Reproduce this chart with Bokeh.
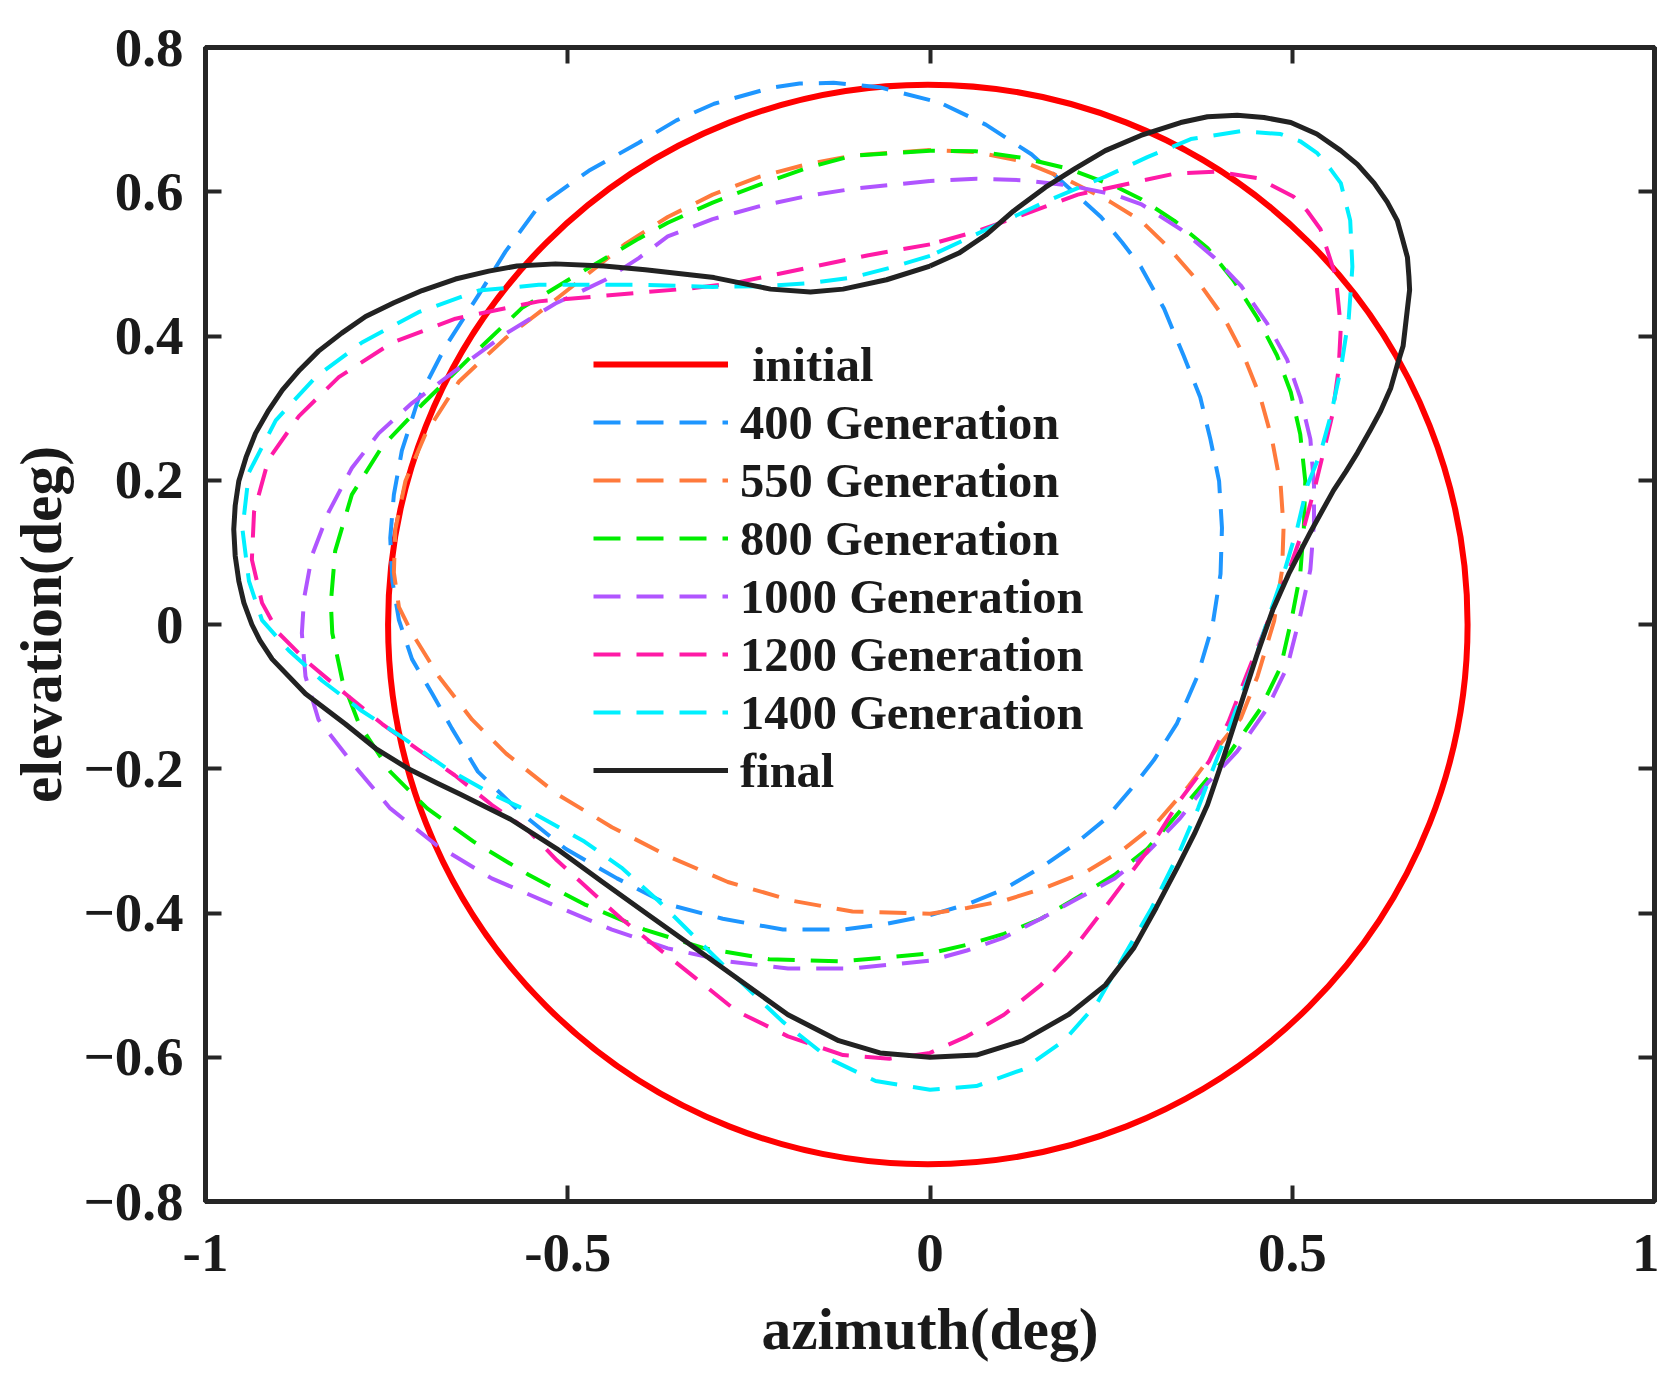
import math
from bokeh.plotting import figure
from bokeh.models import Range1d, FixedTicker, LinearAxis, Legend, LegendItem
from bokeh.embed import file_html
from bokeh.resources import INLINE

# ---------------- data ----------------
x_ticks = [-1, -0.5, 0, 0.5, 1]
x_tick_labels = ["-1", "-0.5", "0", "0.5", "1"]
y_ticks = [-0.8, -0.6, -0.4, -0.2, 0, 0.2, 0.4, 0.6, 0.8]
y_tick_labels = ["\u22120.8", "\u22120.6", "\u22120.4", "\u22120.2", "0", "0.2", "0.4", "0.6", "0.8"]

series_names = ["\u00a0initial", "400 Generation", "550 Generation", "800 Generation",
                "1000 Generation", "1200 Generation", "1400 Generation", "final"]

# initial: a circle
initial_cx = [-0.003]
initial_cy = [0.0]
initial_r = [0.745]

gen400_x = [0.000, -0.070, -0.133, -0.180, -0.220, -0.298, -0.350, -0.402, -0.471, -0.540, -0.586, -0.623,
            -0.669, -0.706, -0.729, -0.740, -0.745, -0.742, -0.733, -0.715, -0.687, -0.660, -0.624, -0.566,
            -0.503, -0.432, -0.362, -0.286, -0.203, -0.120, -0.060, 0.000, 0.051, 0.102, 0.153, 0.198,
            0.242, 0.281, 0.309, 0.341, 0.369, 0.390, 0.401, 0.403, 0.399, 0.387, 0.373, 0.350, 0.323,
            0.291, 0.265, 0.236, 0.191, 0.140, 0.077, 0.019, 0.000]
gen400_y = [0.727, 0.745, 0.751, 0.750, 0.744, 0.722, 0.699, 0.668, 0.629, 0.580, 0.517, 0.457,
            0.385, 0.313, 0.241, 0.180, 0.120, 0.060, 0.006, -0.048, -0.096, -0.144, -0.204, -0.260,
            -0.311, -0.352, -0.388, -0.408, -0.423, -0.423, -0.415, -0.403, -0.388, -0.367, -0.337, -0.306,
            -0.270, -0.224, -0.188, -0.137, -0.072, -0.001, 0.070, 0.134, 0.199, 0.257, 0.315, 0.373, 0.438,
            0.496, 0.530, 0.565, 0.606, 0.652, 0.693, 0.721, 0.727]

gen550_x = [0.000, -0.107, -0.170, -0.235, -0.300, -0.362, -0.420, -0.471, -0.530, -0.586, -0.650, -0.696,
            -0.724, -0.738, -0.740, -0.733, -0.715, -0.678, -0.632, -0.585, -0.515, -0.439, -0.362, -0.279,
            -0.190, -0.107, 0.000, 0.051, 0.102, 0.159, 0.217, 0.268, 0.312, 0.357, 0.395, 0.429, 0.452,
            0.475, 0.486, 0.488, 0.484, 0.472, 0.456, 0.433, 0.406, 0.369, 0.327, 0.291, 0.249, 0.191,
            0.128, 0.064, 0.000]
gen550_y = [0.658, 0.650, 0.638, 0.621, 0.596, 0.565, 0.528, 0.487, 0.440, 0.397, 0.337, 0.265,
            0.199, 0.132, 0.072, 0.024, -0.012, -0.072, -0.132, -0.179, -0.235, -0.281, -0.321, -0.357,
            -0.383, -0.398, -0.401, -0.393, -0.383, -0.365, -0.342, -0.311, -0.276, -0.224, -0.173, -0.130, -0.072,
            0.005, 0.076, 0.134, 0.193, 0.257, 0.315, 0.373, 0.425, 0.477, 0.525, 0.560, 0.586, 0.616,
            0.642, 0.655, 0.658]

gen800_x = [0.000, -0.107, -0.170, -0.235, -0.300, -0.362, -0.402, -0.494, -0.563, -0.632, -0.701, -0.756,
            -0.798, -0.821, -0.827, -0.825, -0.811, -0.788, -0.745, -0.694, -0.630, -0.554, -0.477, -0.394,
            -0.311, -0.222, -0.120, 0.000, 0.051, 0.102, 0.153, 0.204, 0.255, 0.300, 0.344, 0.383, 0.415,
            0.456, 0.484, 0.500, 0.511, 0.516, 0.518, 0.511, 0.498, 0.479, 0.452, 0.419, 0.383, 0.337,
            0.291, 0.255, 0.191, 0.128, 0.064, 0.000]
gen800_y = [0.657, 0.650, 0.633, 0.610, 0.585, 0.557, 0.535, 0.481, 0.439, 0.373, 0.305, 0.247,
            0.180, 0.102, 0.030, -0.012, -0.078, -0.138, -0.204, -0.255, -0.301, -0.347, -0.388, -0.423,
            -0.449, -0.464, -0.467, -0.456, -0.444, -0.429, -0.408, -0.378, -0.347, -0.311, -0.260, -0.214, -0.176,
            -0.117, -0.059, 0.012, 0.070, 0.134, 0.199, 0.264, 0.322, 0.373, 0.425, 0.477, 0.522, 0.560,
            0.590, 0.608, 0.632, 0.647, 0.656, 0.657]

gen1000_x = [0.000, -0.107, -0.170, -0.235, -0.300, -0.362, -0.402, -0.448, -0.517, -0.586, -0.655, -0.715,
             -0.761, -0.798, -0.830, -0.853, -0.864, -0.867, -0.862, -0.844, -0.796, -0.745, -0.681, -0.605,
             -0.522, -0.439, -0.362, -0.279, -0.196, -0.107, 0.000, 0.051, 0.102, 0.153, 0.204, 0.255,
             0.300, 0.344, 0.383, 0.424, 0.465, 0.493, 0.511, 0.525, 0.530, 0.530, 0.525, 0.511, 0.493,
             0.465, 0.429, 0.392, 0.346, 0.291, 0.255, 0.191, 0.128, 0.064, 0.000]
gen1000_y = [0.615, 0.604, 0.594, 0.580, 0.562, 0.538, 0.508, 0.478, 0.445, 0.403, 0.352, 0.307,
             0.265, 0.217, 0.156, 0.096, 0.036, -0.012, -0.072, -0.132, -0.194, -0.255, -0.306, -0.352,
             -0.388, -0.423, -0.449, -0.467, -0.477, -0.477, -0.466, -0.452, -0.434, -0.408, -0.380, -0.352,
             -0.316, -0.270, -0.220, -0.176, -0.117, -0.059, 0.012, 0.076, 0.141, 0.193, 0.257, 0.315, 0.367,
             0.418, 0.470, 0.509, 0.548, 0.583, 0.596, 0.609, 0.616, 0.618, 0.615]

gen1200_x = [0.000, -0.085, -0.171, -0.267, -0.330, -0.402, -0.540, -0.655, -0.742, -0.816, -0.871, -0.913,
             -0.933, -0.936, -0.922, -0.899, -0.857, -0.807, -0.756, -0.707, -0.656, -0.605, -0.554, -0.515,
             -0.471, -0.426, -0.375, -0.324, -0.267, -0.196, -0.120, -0.056, 0.000, 0.051, 0.102, 0.153,
             0.191, 0.230, 0.268, 0.306, 0.344, 0.385, 0.412, 0.437, 0.459, 0.478, 0.498, 0.516, 0.532,
             0.546, 0.555, 0.564, 0.567, 0.560, 0.539, 0.521, 0.502, 0.452, 0.396, 0.337, 0.291, 0.204,
             0.128, 0.064, 0.000]
gen1200_y = [0.527, 0.512, 0.494, 0.474, 0.466, 0.460, 0.448, 0.424, 0.391, 0.343, 0.289, 0.229,
             0.156, 0.090, 0.030, -0.012, -0.054, -0.096, -0.138, -0.173, -0.209, -0.250, -0.286, -0.327,
             -0.367, -0.408, -0.449, -0.490, -0.536, -0.571, -0.597, -0.602, -0.594, -0.571, -0.541, -0.500,
             -0.459, -0.408, -0.357, -0.306, -0.245, -0.190, -0.135, -0.070, -0.015, 0.035, 0.083, 0.134, 0.193,
             0.251, 0.289, 0.354, 0.412, 0.483, 0.548, 0.573, 0.593, 0.619, 0.628, 0.625, 0.615, 0.596,
             0.568, 0.545, 0.527]

gen1400_x = [0.000, -0.050, -0.107, -0.170, -0.235, -0.300, -0.402, -0.540, -0.623, -0.706, -0.784, -0.848,
             -0.903, -0.940, -0.949, -0.940, -0.922, -0.885, -0.839, -0.784, -0.729, -0.668, -0.605, -0.541,
             -0.477, -0.426, -0.375, -0.324, -0.267, -0.203, -0.139, -0.075, 0.000, 0.064, 0.128, 0.185,
             0.230, 0.268, 0.306, 0.344, 0.370, 0.389, 0.415, 0.447, 0.470, 0.488, 0.507, 0.521, 0.539,
             0.553, 0.567, 0.578, 0.583, 0.580, 0.567, 0.553, 0.534, 0.511, 0.484, 0.429, 0.360, 0.300,
             0.242, 0.159, 0.083, 0.000]
gen1400_y = [0.511, 0.496, 0.481, 0.473, 0.469, 0.468, 0.471, 0.471, 0.463, 0.433, 0.391, 0.343,
             0.283, 0.211, 0.132, 0.060, 0.006, -0.036, -0.078, -0.120, -0.156, -0.199, -0.235, -0.265,
             -0.301, -0.337, -0.383, -0.434, -0.490, -0.551, -0.602, -0.633, -0.645, -0.640, -0.617, -0.577,
             -0.526, -0.459, -0.393, -0.316, -0.255, -0.204, -0.138, -0.053, 0.018, 0.070, 0.134, 0.193, 0.238,
             0.289, 0.354, 0.425, 0.496, 0.560, 0.612, 0.631, 0.654, 0.670, 0.680, 0.684, 0.673, 0.648,
             0.621, 0.586, 0.550, 0.511]

final_x = [0.000, -0.060, -0.120, -0.165, -0.220, -0.298, -0.393, -0.450, -0.517, -0.570, -0.609, -0.655,
           -0.701, -0.740, -0.779, -0.812, -0.844, -0.870, -0.894, -0.914, -0.931, -0.944, -0.954, -0.959,
           -0.961, -0.959, -0.954, -0.947, -0.936, -0.925, -0.908, -0.862, -0.807, -0.765, -0.720, -0.680,
           -0.649, -0.579, -0.515, -0.452, -0.388, -0.324, -0.260, -0.196, -0.126, -0.069, 0.000, 0.064,
           0.128, 0.191, 0.242, 0.281, 0.312, 0.344, 0.365, 0.383, 0.406, 0.429, 0.452, 0.473, 0.496,
           0.525, 0.557, 0.574, 0.590, 0.608, 0.622, 0.636, 0.645, 0.653, 0.656, 0.662, 0.661, 0.659,
           0.652, 0.645, 0.631, 0.613, 0.590, 0.567, 0.534, 0.498, 0.461, 0.424, 0.383, 0.346, 0.291,
           0.242, 0.200, 0.159, 0.115, 0.077, 0.040, 0.000]
final_y = [0.497, 0.478, 0.465, 0.461, 0.465, 0.481, 0.492, 0.497, 0.500, 0.497, 0.490, 0.479,
           0.463, 0.446, 0.427, 0.404, 0.379, 0.353, 0.325, 0.295, 0.265, 0.232, 0.199, 0.165,
           0.132, 0.095, 0.060, 0.030, 0.000, -0.022, -0.048, -0.096, -0.138, -0.172, -0.200, -0.220,
           -0.235, -0.270, -0.311, -0.357, -0.403, -0.449, -0.495, -0.541, -0.577, -0.594, -0.600, -0.597,
           -0.577, -0.541, -0.500, -0.449, -0.393, -0.332, -0.290, -0.250, -0.182, -0.111, -0.040, 0.020, 0.072,
           0.128, 0.186, 0.212, 0.238, 0.270, 0.296, 0.328, 0.360, 0.386, 0.412, 0.464, 0.483, 0.509,
           0.535, 0.560, 0.586, 0.612, 0.638, 0.657, 0.680, 0.696, 0.703, 0.706, 0.704, 0.696, 0.678,
           0.657, 0.632, 0.606, 0.573, 0.540, 0.515, 0.497]

# ---------------- styling ----------------
FRAME = "#262626"
TEXT = "#1a1a1a"
FONT = "Liberation Serif"
colors = ["#ff0000", "#1e96ff", "#ff7a3c", "#00ee00", "#b055ff", "#ff1aa6", "#00f0ff", "#222222"]
DASH = "27 16"

p = figure(width=1659, height=1367, output_backend="svg", toolbar_location=None,
           x_range=Range1d(-1, 1), y_range=Range1d(-0.8, 0.8),
           min_border_left=205, min_border_right=5, min_border_top=47, min_border_bottom=166)
p.grid.visible = False
p.background_fill_color = "white"
p.border_fill_color = "white"
p.outline_line_color = FRAME
p.outline_line_width = 5

top_axis = LinearAxis()
right_axis = LinearAxis()
p.add_layout(top_axis, "above")
p.add_layout(right_axis, "right")


def style_axis(ax, ticks):
    ax.ticker = FixedTicker(ticks=ticks)
    ax.major_tick_in = 16
    ax.major_tick_out = 0
    ax.minor_tick_line_color = None
    ax.major_tick_line_width = 4
    ax.major_tick_line_color = FRAME
    ax.axis_line_width = 5
    ax.axis_line_color = FRAME
    ax.major_label_text_font = FONT
    ax.major_label_text_font_style = "bold"
    ax.major_label_text_font_size = "55px"
    ax.major_label_text_color = TEXT
    ax.axis_label_text_font = FONT
    ax.axis_label_text_font_style = "bold"
    ax.axis_label_text_font_size = "59.5px"
    ax.axis_label_text_color = TEXT


for ax in p.xaxis:
    style_axis(ax, x_ticks)
for ax in p.yaxis:
    style_axis(ax, y_ticks)

bx = p.below[0]
bx.major_label_overrides = {t: s for t, s in zip(x_ticks, x_tick_labels)}
bx.axis_label = "azimuth(deg)"
bx.major_label_standoff = 33
bx.axis_label_standoff = 22

ly = p.left[0]
ly.major_label_overrides = {t: s for t, s in zip(y_ticks, y_tick_labels)}
ly.axis_label = "elevation(deg)"
ly.major_label_standoff = 22
ly.axis_label_standoff = 6

for ax in (top_axis, right_axis):
    ax.major_label_text_color = None
    ax.major_label_standoff = 0
    ax.axis_label = None

r_init = p.arc(x=initial_cx, y=initial_cy, radius=initial_r, start_angle=0, end_angle=math.tau,
               line_color=colors[0], line_width=6)

curves = [(gen400_x, gen400_y), (gen550_x, gen550_y), (gen800_x, gen800_y), (gen1000_x, gen1000_y),
          (gen1200_x, gen1200_y), (gen1400_x, gen1400_y)]
renderers = [r_init]
for i, (cx, cy) in enumerate(curves):
    r = p.line(cx, cy, line_color=colors[i + 1], line_width=4, line_dash=DASH, line_join="round")
    renderers.append(r)
r_final = p.line(final_x, final_y, line_color=colors[7], line_width=5, line_join="round")
renderers.append(r_final)

legend = Legend(items=[LegendItem(label=n, renderers=[r]) for n, r in zip(series_names, renderers)],
                location=(388, 402), padding=0, margin=0, spacing=0,
                glyph_width=135, glyph_height=58, label_height=58, label_standoff=12,
                border_line_color=None, background_fill_alpha=0,
                label_text_font=FONT, label_text_font_style="bold",
                label_text_font_size="48.5px", label_text_color=TEXT)
p.add_layout(legend)

open("out.html", "w").write(file_html(p, INLINE))
